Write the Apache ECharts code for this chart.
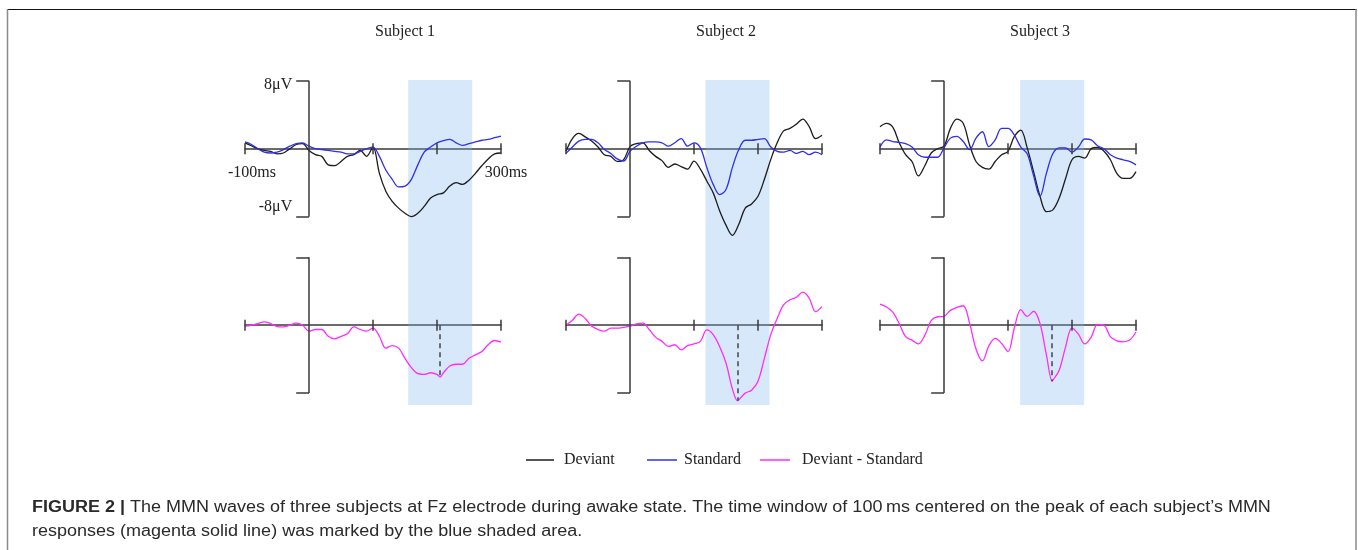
<!DOCTYPE html>
<html>
<head>
<meta charset="utf-8">
<script src="https://cdn.jsdelivr.net/npm/echarts@6/dist/echarts.min.js"></script>
<style>
  html, body { margin: 0; padding: 0; background: #fff; }
  #main { width: 1358px; height: 550px; }
</style>
</head>
<body>
<div id="main"></div>
<script>
// time axis (ms) and the three subjects' waves (µV)
var times = [-100, -90, -80, -70, -60, -50, -40, -30, -20, -10, 0,
  10, 20, 30, 40, 50, 60, 70, 80, 90, 100,
  110, 120, 130, 140, 150, 160, 170, 180, 190, 200,
  210, 220, 230, 240, 250, 260, 270, 280, 290, 300]

var subjectNames = ['Subject 1', 'Subject 2', 'Subject 3']
var xTicks = [-100, 100, 200, 300]

var s1Deviant = [0.7, 0.35, 0, -0.2, -0.3, -0.6, -0.5, 0, 0.5, 0.6, -0.2,
  -0.7, -0.9, -1.9, -2.0, -1.5, -0.9, -0.7, -0.2, -0.9, 0.2,
  -2.9, -5.0, -6.2, -7.0, -7.6, -8.0, -7.6, -6.8, -5.8, -5.4,
  -5.2, -4.4, -4.0, -4.2, -3.7, -2.9, -2.0, -1.2, -0.6, -0.5]
var s1Standard = [0.8, 0.5, 0, -0.4, -0.5, -0.4, -0.1, 0.3, 0.6, 0.7, 0.3,
  0, -0.1, -0.2, -0.3, -0.4, -0.6, -0.6, -0.3, 0, 0.2,
  -0.9, -2.5, -3.6, -4.5, -4.4, -3.6, -1.9, -0.4, 0.2, 0.7,
  0.95, 1.1, 0.7, 0.4, 0.6, 0.8, 1.0, 1.1, 1.3, 1.5]
var s1Diff = [-0.1, 0, 0.2, 0.4, 0.2, -0.15, -0.2, 0, 0.25, 0, -0.7,
  -0.5, -0.5, -1.3, -1.6, -1.3, -1.0, -0.2, -0.5, -0.7, -0.35,
  -1.3, -2.7, -2.4, -2.7, -3.9, -5.0, -5.7, -5.8, -5.6, -5.8,
  -5.6, -4.8, -4.6, -4.6, -3.9, -3.5, -3.1, -2.3, -1.8, -2.0]

var s2Deviant = [-0.3, 1.2, 1.8, 1.4, 0.9, 0.2, -0.7, -0.9, -1.5, -1.3, 0.25,
  0.6, 0.7, -0.2, -0.9, -1.4, -2.2, -1.8, -2.1, -2.4, -1.45,
  -2.4, -3.8, -5.2, -7.3, -9.0, -10.2, -8.9, -7.0, -6.5, -5.6,
  -3.6, -1.25, 0.7, 2.1, 2.4, 2.9, 3.5, 2.6, 1.2, 1.6]
var s2Standard = [-0.55, 0.2, 0.9, 1.1, 1.1, 0.7, -0.1, -0.55, -1.2, -1.45, -0.3,
  0.3, 0.7, 0.8, 0.8, 0.7, 0.3, 0.7, 1.2, 0.3, 0.7,
  0.1, -2.2, -4.2, -5.4, -4.8, -2.2, -0.1, 1.0, 1.0, 1.1,
  1.2, 0.2, -0.3, -0.4, -0.2, -0.55, -0.3, -0.7, -0.4, -0.7]
var s2Diff = [0, 0.6, 1.3, 0.8, -0.1, -0.5, -0.7, -0.35, -0.35, -0.25, -0.1,
  0.15, 0.25, -0.5, -1.4, -1.9, -2.5, -2.3, -2.9, -2.4, -2.2,
  -1.9, -0.55, -1.1, -2.5, -4.45, -7.5, -8.8, -8.0, -7.65, -6.6,
  -3.9, -1.1, 0.8, 2.4, 3.0, 3.3, 3.9, 3.2, 1.6, 2.2]

var s3Deviant = [2.6, 3.0, 2.55, 0.7, -0.7, -1.5, -3.2, -2.0, -0.5, 0, 0.3,
  2.4, 3.5, 3.0, 0.45, -1.5, -2.2, -2.4, -1.5, -0.7, -0.3,
  1.45, 2.2, 0.1, -2.7, -5.6, -7.4, -7.2, -5.8, -3.5, -1.3,
  -0.9, -1.1, 0, 0.15, -0.3, -1.3, -2.9, -3.5, -3.5, -2.7]
var s3Standard = [0.2, 1.05, 0.85, 0.75, 0.6, 0.2, -0.7, -1.0, -1.0, -1.0, 0.1,
  1.25, 1.45, 0.85, -0.1, 1.25, 2.0, 0.25, 1.05, 2.4, 2.4,
  1.6, 0.2, -0.6, -3.2, -5.6, -2.9, -0.6, 0.1, 0.1, -0.4,
  0.2, 1.15, 1.05, 0.35, 0, -0.7, -1.1, -1.3, -1.5, -1.9]
var s3Diff = [2.5, 2.15, 1.55, 0.2, -1.35, -1.75, -2.2, -1.2, 0.55, 1.0, 1.05,
  1.75, 2.1, 2.3, 0.25, -2.8, -4.2, -2.45, -1.55, -2.15, -3.1,
  -0.3, 1.85, 1.05, 1.65, 0.2, -3.5, -6.5, -5.3, -2.55, -0.3,
  -1.05, -2.2, -1.4, 0.1, 0, -1.35, -1.85, -1.95, -1.75, -0.8]

// MMN peak of each difference wave (ms, µV); the shaded window is peak ± 50 ms
var peakTimes = [205, 168, 169]
var peakValues = [-6.1, -8.9, -6.6]

var deviants = [s1Deviant, s2Deviant, s3Deviant]
var standards = [s1Standard, s2Standard, s3Standard]
var diffs = [s1Diff, s2Diff, s3Diff]

var colLeft = [245, 566, 880]
var serif = "'Liberation Serif', 'Times New Roman', serif"
var axisColor = '#3a3a3a'

function pairs (vals) {
  return times.map(function (t, i) { return [t, vals[i]] })
}

// axis decorations: y bracket at 0 ms from -8 to 8 µV, x ticks on both sides
function axisMarks (extra) {
  var d = [
    [{ coord: [0, 8] }, { coord: [0, -8] }],
    [{ coord: [-20, 8] }, { coord: [0, 8] }],
    [{ coord: [-20, -8] }, { coord: [0, -8] }]
  ]
  xTicks.forEach(function (t) {
    d.push([{ coord: [t, -0.65] }, { coord: [t, 0.65] }])
  })
  return {
    silent: true,
    symbol: ['none', 'none'],
    label: { show: false },
    lineStyle: { color: axisColor, width: 1.5, type: 'solid' },
    emphasis: { disabled: true },
    data: d.concat(extra || [])
  }
}

var grids = []
var xAxes = []
var yAxes = []
var series = []

subjectNames.forEach(function (name, i) {
  var top = 2 * i
  var bot = 2 * i + 1
  grids.push({ left: colLeft[i], top: 80, width: 256, height: 157 })
  grids.push({ left: colLeft[i], top: 237, width: 256, height: 168 })
  ;[top, bot].forEach(function (g) {
    xAxes.push({
      gridIndex: g, type: 'value', min: -100, max: 300,
      axisLine: { onZero: true, lineStyle: { color: axisColor, width: 1.5 } },
      axisTick: { show: false }, axisLabel: { show: false }, splitLine: { show: false }
    })
  })
  yAxes.push({ gridIndex: top, type: 'value', min: -10.4, max: 8.1, show: false })
  yAxes.push({ gridIndex: bot, type: 'value', min: -9.4, max: 10.4, show: false })

  var win = [[{ xAxis: peakTimes[i] - 50 }, { xAxis: peakTimes[i] + 50 }]]
  ;[top, bot].forEach(function (g) {
    series.push({
      name: 'window', type: 'line', xAxisIndex: g, yAxisIndex: g, data: [], z: 1, silent: true,
      markArea: { silent: true, itemStyle: { color: 'rgba(120,180,235,0.3)' }, data: win }
    })
  })

  series.push({
    name: 'Deviant', type: 'line', xAxisIndex: top, yAxisIndex: top,
    data: pairs(deviants[i]), smooth: 0.35, symbol: 'none', clip: false, z: 3,
    lineStyle: { color: '#1c1c1c', width: 1.3 }, itemStyle: { color: '#1c1c1c' },
    markLine: axisMarks()
  })
  series.push({
    name: 'Standard', type: 'line', xAxisIndex: top, yAxisIndex: top,
    data: pairs(standards[i]), smooth: 0.35, symbol: 'none', clip: false, z: 4,
    lineStyle: { color: '#2f2ff0', width: 1.3 }, itemStyle: { color: '#2f2ff0' }
  })

  var dd = pairs(diffs[i])
  dd.push([peakTimes[i], peakValues[i]])
  dd.sort(function (a, b) { return a[0] - b[0] })
  series.push({
    name: 'Deviant - Standard', type: 'line', xAxisIndex: bot, yAxisIndex: bot,
    data: dd, smooth: 0.35, symbol: 'none', clip: false, z: 3,
    lineStyle: { color: '#ff2cff', width: 1.3 }, itemStyle: { color: '#ff2cff' },
    markLine: axisMarks([[
      { coord: [peakTimes[i], 0], lineStyle: { type: [5, 4], color: '#444', width: 1.5 } },
      { coord: [peakTimes[i], peakValues[i]] }
    ]])
  })
})

function legendAt (name, left, w, gap) {
  return {
    data: [name], left: left, top: 452, padding: 0,
    icon: 'rect', itemWidth: w, itemHeight: 1.5, selectedMode: false,
    textStyle: { fontFamily: serif, fontSize: 16, color: '#222', padding: [0, 0, 0, gap] }
  }
}

var myChart = echarts.init(document.getElementById('main'))

var option = {
  animation: false,
  backgroundColor: '#fff',
  grid: grids,
  xAxis: xAxes,
  yAxis: yAxes,
  legend: [
    legendAt('Deviant', 526, 28, 5),
    legendAt('Standard', 647, 30, 2),
    legendAt('Deviant - Standard', 760, 30, 7)
  ],
  series: series
}
myChart.setOption(option)

// texts placed through the axes' own scales
var graphics = []
function txt (x, y, text, align, style) {
  graphics.push({
    type: 'text', x: x, y: y, silent: true,
    style: Object.assign({ text: text, align: align, verticalAlign: 'middle', font: '16px ' + serif, fill: '#222' }, style || {})
  })
}
subjectNames.forEach(function (name, i) {
  var p = myChart.convertToPixel({ gridIndex: 2 * i }, [150, 0])
  txt(p[0], 32, name, 'center')
})
var a = myChart.convertToPixel({ gridIndex: 0 }, [-20, 8])
var b = myChart.convertToPixel({ gridIndex: 0 }, [-20, -8])
var c = myChart.convertToPixel({ gridIndex: 0 }, [-100, 0])
var d = myChart.convertToPixel({ gridIndex: 0 }, [300, 0])
txt(a[0] - 4, a[1] + 4, '8μV', 'right')
txt(b[0] - 4, b[1] - 10, '-8μV', 'right')
txt(c[0] + 7, c[1] + 24, '-100ms', 'center')
txt(d[0] + 5, d[1] + 24, '300ms', 'center')

// frame of the figure
graphics.push({ type: 'line', silent: true, shape: { x1: 7, y1: 9.5, x2: 1357, y2: 9.5 }, style: { stroke: '#111', lineWidth: 1.2 } })
graphics.push({ type: 'line', silent: true, shape: { x1: 7.5, y1: 9, x2: 7.5, y2: 550 }, style: { stroke: '#8a8a8a', lineWidth: 1.5 } })
graphics.push({ type: 'line', silent: true, shape: { x1: 1356, y1: 9, x2: 1356, y2: 550 }, style: { stroke: '#8a8a8a', lineWidth: 1.5 } })

// caption (slightly widened to the reference's measure)
var sans = "'Liberation Sans', Arial, sans-serif"
graphics.push({
  type: 'text', x: 32, y: 508, scaleX: 1.125, silent: true,
  style: {
    text: '{b|FIGURE 2 |} The MMN waves of three subjects at Fz electrode during awake state. The time window of 100\u2009ms centered on the peak of each subject\u2019s MMN',
    font: '16px ' + sans, fill: '#2a2a2a', verticalAlign: 'middle',
    rich: { b: { fontWeight: 'bold', fontSize: 16, fontFamily: sans, fill: '#2a2a2a' } }
  }
})
graphics.push({
  type: 'text', x: 32, y: 532, scaleX: 1.125, silent: true,
  style: { text: 'responses (magenta solid line) was marked by the blue shaded area.', font: '16px ' + sans, fill: '#2a2a2a', verticalAlign: 'middle' }
})

myChart.setOption({ graphic: graphics })
</script>
</body>
</html>
